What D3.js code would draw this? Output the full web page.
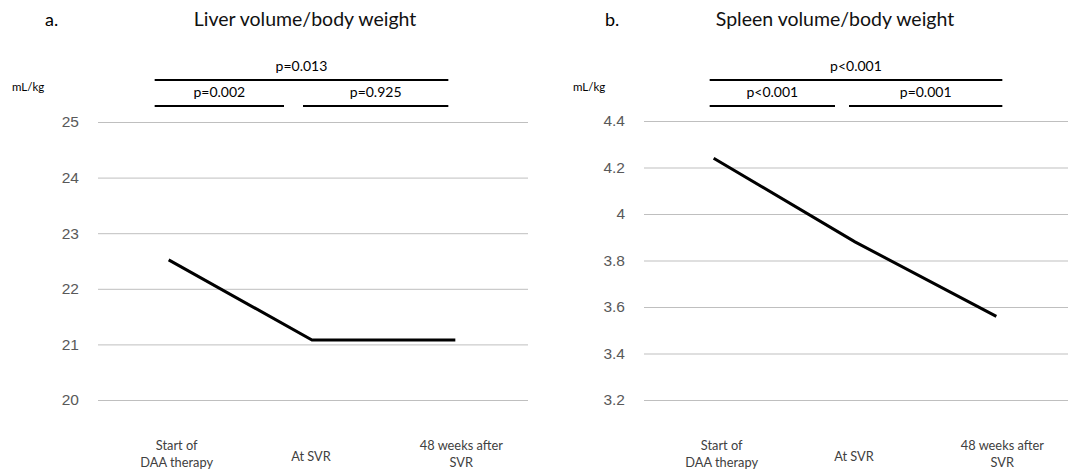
<!DOCTYPE html>
<html>
<head>
<meta charset="utf-8">
<script src="https://cdn.jsdelivr.net/npm/d3@7"></script>
<style>
  body { margin: 0; background: #fff; }
  svg { font-family: Lato, "Open Sans", sans-serif; }
  .tick text { fill: #595959; font-size: 15.5px; }
  .cat { fill: #404040; font-size: 12.8px; }
</style>
</head>
<body>
<svg id="chart" width="1073" height="471"></svg>
<script>
const categories = [['Start of', 'DAA therapy'], ['At SVR'], ['48 weeks after', 'SVR']]

const liverValues = [22.52, 21.08, 21.08]
const liverTicks = [20, 21, 22, 23, 24, 25]
const liverPvals = ['p=0.013', 'p=0.002', 'p=0.925']

const spleenValues = [4.24, 3.88, 3.56]
const spleenTicks = [3.2, 3.4, 3.6, 3.8, 4.0, 4.2, 4.4]
const spleenPvals = ['p<0.001', 'p<0.001', 'p=0.001']

const svg = d3.select('#chart')

function panel(opts) {
    const g = svg.append('g')
    const x = d3.scaleBand()
        .domain(d3.range(categories.length))
        .range([opts.left, opts.right])
    const y = d3.scaleLinear()
        .domain(d3.extent(opts.ticks))
        .range([opts.bottom, opts.top])

    // gridlines + tick labels
    const yAxis = g.append('g')
        .attr('transform', `translate(${opts.left},0)`)
        .call(d3.axisLeft(y).tickValues(opts.ticks)
            .tickSize(-(opts.right - opts.left))
            .tickPadding(19)
            .tickFormat(opts.fmt))
    yAxis.select('.domain').remove()
    yAxis.selectAll('.tick line').attr('stroke', '#bfbfbf').attr('stroke-width', 1)

    // category labels
    categories.forEach((lines, i) => {
        const cx = x(i) + x.bandwidth() / 2 + (i === 0 ? 7 : i === 2 ? 5 : -2)
        const t = g.append('text').attr('class', 'cat')
            .attr('text-anchor', 'middle')
            .attr('y', lines.length > 1 ? 450 : 461)
        lines.forEach((s, k) => t.append('tspan')
            .attr('x', cx).attr('dy', k ? 17 : 0).text(s))
    })

    // data line
    const line = d3.line()
        .x((d, i) => x(i) + x.bandwidth() / 2 - 1)
        .y(d => y(d))
    g.append('path').datum(opts.values)
        .attr('d', line)
        .attr('fill', 'none')
        .attr('stroke', '#000')
        .attr('stroke-width', 3)

    // titles
    g.append('text').attr('x', opts.letterX).attr('y', 26)
        .attr('font-size', 18).attr('fill', '#000').text(opts.letter)
    g.append('text').attr('x', opts.titleX).attr('y', 26)
        .attr('text-anchor', 'middle')
        .attr('font-size', 19.5).attr('fill', '#111').text(opts.title)
    g.append('text').attr('x', opts.unitX).attr('y', 91)
        .attr('font-size', 11.5).attr('fill', '#000').text('mL/kg')

    // significance bars
    const c = i => x(i) + x.bandwidth() / 2
    const bars = [
        [c(0) + opts.b[0], c(2) + opts.b[1], 80, opts.pvals[0]],
        [c(0) + opts.b[0], c(1) + opts.b[2], 106, opts.pvals[1]],
        [c(1) + opts.b[3], c(2) + opts.b[1], 106, opts.pvals[2]]
    ]
    bars.forEach(([x1, x2, yy, label]) => {
        g.append('line')
            .attr('x1', x1).attr('x2', x2).attr('y1', yy).attr('y2', yy)
            .attr('stroke', '#000').attr('stroke-width', 2.2)
        g.append('text')
            .attr('x', (x1 + x2) / 2).attr('y', yy - 9)
            .attr('text-anchor', 'middle')
            .attr('font-size', 14).attr('fill', '#000').text(label)
    })
}

panel({
    left: 98, right: 528, top: 122, bottom: 400,
    ticks: liverTicks, values: liverValues, pvals: liverPvals,
    fmt: d3.format('d'),
    letter: 'a.', letterX: 45, title: 'Liver volume/body weight', titleX: 305, unitX: 12,
    b: [-15, -8, -29, -10]
})

panel({
    left: 644, right: 1068, top: 121, bottom: 400,
    ticks: spleenTicks, values: spleenValues, pvals: spleenPvals,
    fmt: d => d3.format('')(+d.toFixed(1)),
    letter: 'b.', letterX: 605, title: 'Spleen volume/body weight', titleX: 835, unitX: 573,
    b: [-5, 5, -21, -7]
})
</script>
</body>
</html>
